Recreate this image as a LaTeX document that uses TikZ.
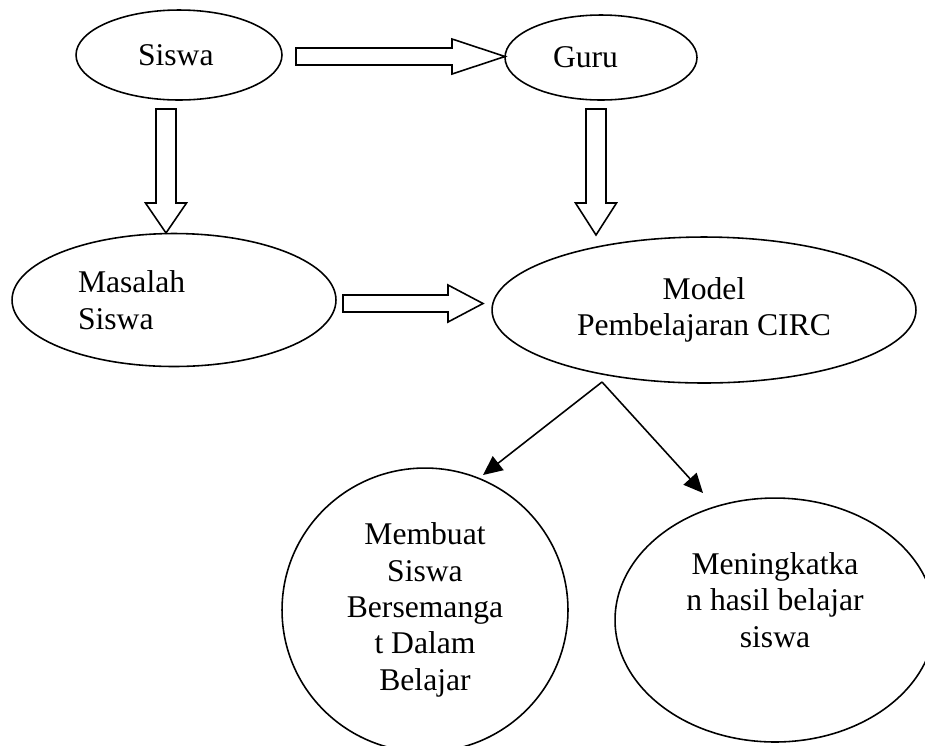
\documentclass[tikz,border=0pt]{standalone}
\usepackage{fontspec}
\setmainfont{Liberation Serif}
\usetikzlibrary{shapes.geometric, arrows.meta}

\tikzset{
	txt/.style={font=\fontsize{18}{20.7}\selectfont, align=center},
	oval/.style={draw, ellipse, line width=0.9pt, inner sep=0pt, txt},
	bigarrow/.style={draw, line width=0.9pt, fill=white, line join=miter},
	thinarrow/.style={line width=0.9pt, -{Triangle[length=11pt,width=10pt]}},
}
\newcommand{\hollowright}[6]{\draw[bigarrow] (#1,#3-#4) -- (#2-#6,#3-#4) -- (#2-#6,#3-#5) -- (#2,#3) -- (#2-#6,#3+#5) -- (#2-#6,#3+#4) -- (#1,#3+#4) -- cycle;}
\newcommand{\hollowdown}[6]{\draw[bigarrow] (#3-#4,#1) -- (#3-#4,#2-#6) -- (#3-#5,#2-#6) -- (#3,#2) -- (#3+#5,#2-#6) -- (#3+#4,#2-#6) -- (#3+#4,#1) -- cycle;}

\begin{document}
\begin{tikzpicture}[x=0.02cm, y=-0.02cm]
	\useasboundingbox (0,0) rectangle (925,745);
	\clip (0,0) rectangle (925,745);

	\node[oval, minimum width=4.12cm, minimum height=1.8cm, text width=1.64cm, align=left] (siswa) at (179,55) {Siswa};
	\node[oval, minimum width=3.84cm, minimum height=1.7cm, text width=1.92cm, align=left] (guru) at (601,57.5) {Guru};
	\node[oval, minimum width=6.48cm, minimum height=2.66cm, text width=3.84cm, align=left] (masalah) at (174,300) {Masalah\\Siswa};
	\node[oval, minimum width=8.48cm, minimum height=2.92cm] (model) at (704,310) {Model\\Pembelajaran CIRC};
	\node[oval, minimum width=5.72cm, minimum height=5.68cm] (membuat) at (425,610) {Membuat\\Siswa\\Bersemanga\\t Dalam\\Belajar};
	\node[oval, minimum width=6.4cm, minimum height=4.88cm, label={[txt, yshift=0.4cm]center:{Meningkatka\\n hasil belajar\\siswa}}] (hasil) at (775,620) {};

	\hollowright{296}{505}{56.5}{8.5}{17.5}{53}
	\hollowright{343}{483}{303.5}{8.5}{18.5}{35}
	\hollowdown{109}{233}{166}{10}{20.5}{30}
	\hollowdown{109}{235}{596}{10}{20.5}{32}

	\coordinate (split) at (602,382);
	\coordinate (leftend) at (483,475);
	\coordinate (rightend) at (703,493);
	\draw[thinarrow] (split) -- (leftend);
	\draw[thinarrow] (split) -- (rightend);
\end{tikzpicture}
\end{document}
